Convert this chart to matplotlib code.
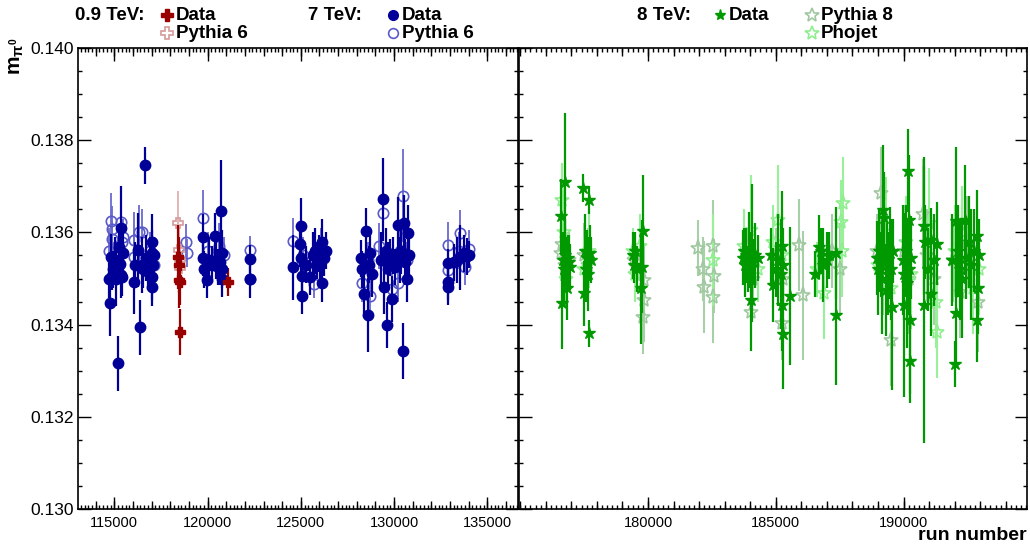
import numpy as np
import matplotlib.pyplot as plt
from matplotlib.lines import Line2D
from matplotlib.ticker import MultipleLocator, FormatStrFormatter

plt.rcParams['font.family'] = ['Liberation Sans', 'DejaVu Sans']
plt.rcParams['mathtext.fontset'] = 'custom'
plt.rcParams['mathtext.rm'] = 'Liberation Sans'
plt.rcParams['mathtext.bf'] = 'Liberation Sans:bold'
plt.rcParams['mathtext.it'] = 'Liberation Sans:italic'

# ---- 0.9 TeV ----
run_09_data = [118440, 118460, 118480, 118500, 118520, 121090]
m_09_data = [0.13547, 0.13529, 0.13497, 0.13493, 0.13383, 0.13493]
e_09_data = [0.0007, 0.0006, 0.0006, 0.0005, 0.0005, 0.0003]

run_09_py6 = [118440, 118470, 118500, 118520]
m_09_py6 = [0.13620, 0.13562, 0.13522, 0.13540]
e_09_py6 = [0.0007, 0.0005, 0.0004, 0.0004]

# ---- 7 TeV ----
run_7_data = [114690, 114780, 114820, 114870, 114950, 115030, 115100, 115180, 115250, 115300,
              115340, 115380, 115420, 115470, 116040, 116100, 116250, 116370, 116480, 116550,
              116620, 116700, 116800, 116900, 117010, 117040, 117060, 117000, 117020, 117100,
              119750, 119780, 119800, 119970, 120100, 120250, 120380, 120450, 120550, 120650,
              120740, 120760, 120780, 120800, 122260, 122270,
              124590, 124950, 125000, 125020, 125040, 125050, 125300, 125520, 125650, 125750,
              125850, 125950, 126050, 126130, 126150, 126250, 126350,
              128225, 128300, 128403, 128494, 128585, 128650, 128700, 128800, 129300, 129424,
              129478, 129550, 129623, 129700, 129800, 129876, 129950, 130050, 130198, 130300,
              130400, 130500, 130553, 130600, 130698, 130736, 130780,
              132885, 132890, 132900, 133200, 133400, 133565, 133750, 133900, 134000]
m_7_data = [0.13498, 0.13446, 0.13546, 0.13505, 0.13520, 0.13540, 0.13500, 0.13316, 0.13569, 0.13531,
            0.13508, 0.13610, 0.13503, 0.13555, 0.13493, 0.13530, 0.13562, 0.13394, 0.13529, 0.13520,
            0.13746, 0.13545, 0.13515, 0.13540, 0.13579, 0.13555, 0.13530, 0.13504, 0.13481, 0.13550,
            0.13589, 0.13545, 0.13520, 0.13497, 0.13540, 0.13530, 0.13592, 0.13540, 0.13525, 0.13535,
            0.13646, 0.13555, 0.13520, 0.13500, 0.13542, 0.13498,
            0.13524, 0.13575, 0.13614, 0.13545, 0.13505, 0.13463, 0.13530, 0.13504, 0.13550, 0.13560,
            0.13540, 0.13555, 0.13535, 0.13490, 0.13580, 0.13545, 0.13560,
            0.13544, 0.13520, 0.13466, 0.13604, 0.13421, 0.13530, 0.13555, 0.13510, 0.13540, 0.13672,
            0.13482, 0.13560, 0.13399, 0.13530, 0.13545, 0.13456, 0.13550, 0.13525, 0.13616, 0.13540,
            0.13560, 0.13343, 0.13621, 0.13535, 0.13498, 0.13599, 0.13550,
            0.13533, 0.13493, 0.13482, 0.13535, 0.13540, 0.13546, 0.13555, 0.13548, 0.13552]
e_7_data = [0.0004, 0.0007, 0.0005, 0.0003, 0.0004, 0.0005, 0.0006, 0.0006, 0.0005, 0.0004,
            0.0005, 0.0009, 0.0004, 0.0006, 0.0007, 0.0005, 0.0008, 0.0006, 0.0006, 0.0004,
            0.0004, 0.0005, 0.0004, 0.0005, 0.0006, 0.0005, 0.0004, 0.0005, 0.0004, 0.0004,
            0.0005, 0.0004, 0.0004, 0.0004, 0.0005, 0.0004, 0.0005, 0.0004, 0.0004, 0.0005,
            0.0011, 0.0005, 0.0004, 0.0004, 0.0003, 0.0004,
            0.0007, 0.0005, 0.0006, 0.0005, 0.0004, 0.0004, 0.0004, 0.0004, 0.0005, 0.0005,
            0.0004, 0.0004, 0.0005, 0.0004, 0.0005, 0.0004, 0.0004,
            0.0004, 0.0004, 0.0005, 0.0005, 0.0008, 0.0004, 0.0005, 0.0005, 0.0006, 0.0009,
            0.0006, 0.0005, 0.0005, 0.0005, 0.0004, 0.0005, 0.0004, 0.0004, 0.0006, 0.0005,
            0.0005, 0.0006, 0.0006, 0.0005, 0.0005, 0.0006, 0.0005,
            0.0003, 0.0004, 0.0004, 0.0004, 0.0005, 0.0007, 0.0004, 0.0004, 0.0003]

run_7_py6 = [114700, 114820, 114850, 114900, 115000, 115350, 115400, 115450, 116040, 116050,
             116300, 116500, 116900, 117100, 118850, 118870, 119750, 120000, 120600, 120900,
             122260, 122270, 124590, 125100, 125720, 126100, 128300, 128600, 128725, 129200,
             129391, 129700, 129900, 130198, 130300, 130500, 130700, 132885, 132890, 133500,
             133565, 133800, 134000]
m_7_py6 = [0.13560, 0.13625, 0.13608, 0.13585, 0.13540, 0.13623, 0.13580, 0.13590, 0.13584, 0.13547,
           0.13600, 0.13600, 0.13560, 0.13530, 0.13579, 0.13555, 0.13631, 0.13560, 0.13570, 0.13550,
           0.13562, 0.13500, 0.13582, 0.13550, 0.13488, 0.13560, 0.13490, 0.13540, 0.13462, 0.13570,
           0.13641, 0.13520, 0.13478, 0.13490, 0.13560, 0.13680, 0.13540, 0.13573, 0.13518, 0.13560,
           0.13598, 0.13526, 0.13565]
e_7_py6 = [0.0005, 0.0006, 0.0005, 0.0004, 0.0004, 0.0005, 0.0005, 0.0004, 0.0006, 0.0005,
           0.0006, 0.0005, 0.0004, 0.0004, 0.0004, 0.0003, 0.0006, 0.0004, 0.0005, 0.0004,
           0.0003, 0.0003, 0.0005, 0.0004, 0.0003, 0.0005, 0.0004, 0.0004, 0.0005, 0.0005,
           0.0005, 0.0004, 0.0004, 0.0004, 0.0005, 0.0010, 0.0004, 0.0005, 0.0004, 0.0004,
           0.0005, 0.0004, 0.0004]

# ---- 8 TeV ----
run_8_data = [176600, 176640, 176680, 176700, 176735, 176760, 176800, 176836, 176880, 176920, 176960,
              177464, 177480, 177520, 177560, 177600, 177640, 177687, 177690, 177720, 177760,
              179400, 179450, 179500, 179550, 179804, 179780, 179737,
              183700, 183750, 183800, 183850, 183900, 183950, 184000, 184025, 184060, 184100, 184200, 184300,
              184800, 184900, 185000, 185100, 185200, 185240, 185260, 185280, 185300, 185555,
              186546, 186676, 186750, 186850, 187000, 187100, 187350, 187360,
              188950, 189000, 189050, 189100, 189150, 189212, 189250, 189300, 189350, 189400,
              189450, 189500, 189538, 189580,
              189960, 190000, 190030, 190080, 190120, 190190, 190200, 190230, 190255, 190270, 190300,
              190780, 190790, 190850, 190950, 191080, 191090, 191200, 191320,
              191900, 192000, 192060, 192070, 192120, 192200, 192300, 192390, 192450, 192550,
              192650, 192750, 192870, 192880, 192900, 192950]
m_8_data = [0.13636, 0.13446, 0.13540, 0.13520, 0.13709, 0.13550, 0.13530, 0.13479, 0.13545, 0.13535, 0.13525,
            0.13696, 0.13468, 0.13560, 0.13520, 0.13545, 0.13510, 0.13670, 0.13381, 0.13555, 0.13540,
            0.13550, 0.13530, 0.13560, 0.13520, 0.13604, 0.13526, 0.13479,
            0.13545, 0.13560, 0.13530, 0.13550, 0.13520, 0.13565, 0.13540, 0.13453, 0.13555, 0.13535, 0.13550, 0.13545,
            0.13550, 0.13486, 0.13520, 0.13540, 0.13510, 0.13570, 0.13443, 0.13380, 0.13530, 0.13462,
            0.13510, 0.13568, 0.13560, 0.13530, 0.13540, 0.13550, 0.13555, 0.13420,
            0.13545, 0.13520, 0.13560, 0.13530, 0.13500, 0.13649, 0.13631, 0.13475, 0.13540, 0.13510,
            0.13555, 0.13520, 0.13439, 0.13560,
            0.13540, 0.13510, 0.13443, 0.13560, 0.13490, 0.13734, 0.13627, 0.13520, 0.13410, 0.13320, 0.13545,
            0.13614, 0.13443, 0.13580, 0.13520, 0.13584, 0.13466, 0.13540, 0.13575,
            0.13540, 0.13314, 0.13425, 0.13625, 0.13560, 0.13520, 0.13500, 0.13627, 0.13545, 0.13580,
            0.13530, 0.13560, 0.13409, 0.13592, 0.13480, 0.13550]
e_8_data = [0.0008, 0.0010, 0.0006, 0.0007, 0.0015, 0.0008, 0.0006, 0.0007, 0.0005, 0.0006, 0.0005,
            0.0003, 0.0007, 0.0008, 0.0007, 0.0006, 0.0008, 0.0003, 0.0003, 0.0006, 0.0005,
            0.0005, 0.0004, 0.0004, 0.0005, 0.0012, 0.0010, 0.0012,
            0.0006, 0.0005, 0.0007, 0.0006, 0.0005, 0.0008, 0.0006, 0.0011, 0.0015, 0.0005, 0.0007, 0.0005,
            0.0006, 0.0008, 0.0006, 0.0010, 0.0012, 0.0012, 0.0010, 0.0012, 0.0008, 0.0015,
            0.0005, 0.0007, 0.0005, 0.0008, 0.0006, 0.0005, 0.0010, 0.0015,
            0.0008, 0.0010, 0.0009, 0.0007, 0.0012, 0.0014, 0.0010, 0.0010, 0.0008, 0.0009,
            0.0010, 0.0011, 0.0018, 0.0007,
            0.0012, 0.0010, 0.0020, 0.0010, 0.0014, 0.0009, 0.0014, 0.0010, 0.0016, 0.0009, 0.0009,
            0.0015, 0.0030, 0.0008, 0.0009, 0.0007, 0.0009, 0.0010, 0.0009,
            0.0010, 0.0005, 0.0012, 0.0016, 0.0010, 0.0011, 0.0013, 0.0012, 0.0009, 0.0010,
            0.0012, 0.0009, 0.0009, 0.0010, 0.0010, 0.0008]

run_8_py8 = [176600, 176650, 176750, 176900, 177500, 177650, 179450, 179850, 179830, 179800,
             181972, 182156, 182180, 182548, 182560, 182570, 183900, 184025, 184100, 185000,
             185240, 185300, 186050, 185900, 187200, 187500, 188950, 189100, 189200, 189500,
             190000, 190200, 190750, 190900, 191200, 191950, 192200, 192500, 192900]
m_8_py8 = [0.13555, 0.13575, 0.13530, 0.13540, 0.13550, 0.13530, 0.13540, 0.13496, 0.13453, 0.13417,
           0.13566, 0.13521, 0.13482, 0.13570, 0.13460, 0.13505, 0.13540, 0.13428, 0.13500, 0.13550,
           0.13403, 0.13500, 0.13464, 0.13573, 0.13560, 0.13520, 0.13560, 0.13685, 0.13520, 0.13367,
           0.13560, 0.13500, 0.13640, 0.13550, 0.13500, 0.13540, 0.13470, 0.13580, 0.13450]
e_8_py8 = [0.0006, 0.0008, 0.0007, 0.0006, 0.0007, 0.0008, 0.0005, 0.0008, 0.0009, 0.0008,
           0.0006, 0.0007, 0.0010, 0.0010, 0.0010, 0.0008, 0.0007, 0.0006, 0.0006, 0.0006,
           0.0008, 0.0008, 0.0014, 0.0010, 0.0008, 0.0010, 0.0008, 0.0010, 0.0010, 0.0010,
           0.0010, 0.0012, 0.0012, 0.0010, 0.0010, 0.0009, 0.0010, 0.0010, 0.0011]

run_8_phojet = [176620, 176700, 176800, 177500, 177700, 179420, 179500, 179700, 182560, 183750,
                184025, 184300, 184900, 185100, 185250, 186600, 186900, 187550, 187644, 187600,
                189000, 189300, 189500, 190100, 190300, 191000, 191320, 191250, 192000, 192300,
                192700, 192950]
m_8_phojet = [0.13670, 0.13600, 0.13500, 0.13520, 0.13560, 0.13560, 0.13510, 0.13570, 0.13540, 0.13570,
              0.13605, 0.13520, 0.13580, 0.13627, 0.13550, 0.13520, 0.13468, 0.13623, 0.13663, 0.13560,
              0.13530, 0.13600, 0.13480, 0.13580, 0.13510, 0.13620, 0.13385, 0.13450, 0.13560, 0.13600,
              0.13480, 0.13520]
e_8_phojet = [0.0008, 0.0010, 0.0006, 0.0007, 0.0008, 0.0005, 0.0006, 0.0007, 0.0010, 0.0008,
              0.0012, 0.0007, 0.0008, 0.0012, 0.0010, 0.0006, 0.0010, 0.0009, 0.0010, 0.0010,
              0.0010, 0.0012, 0.0010, 0.0010, 0.0012, 0.0012, 0.0010, 0.0010, 0.0010, 0.0010,
              0.0010, 0.0010]

W, H = 1030, 545
fig = plt.figure(figsize=(W / 100, H / 100), dpi=100)
axl = fig.add_axes([78 / W, 1 - 509 / H, (518 - 78) / W, 461 / H])
axr = fig.add_axes([519 / W, 1 - 509 / H, (1027 - 519) / W, 461 / H])


def series(ax, x, y, e, marker, color, ecolor, ms, filled, lw, z):
    ax.errorbar(x, y, yerr=e, fmt='none', ecolor=ecolor, elinewidth=lw, capsize=0, zorder=z)
    ax.plot(x, y, ls='none', marker=marker, ms=ms, mec=color,
            mfc=color if filled else 'none', mew=1.0 if filled else 1.2, zorder=z + 0.5)


# MC first, data on top
series(axl, run_7_py6, m_7_py6, e_7_py6, 'o', '#5a5ac8', '#6a6ad0', 7.5, False, 1.3, 2)
series(axl, run_09_py6, m_09_py6, e_09_py6, 'P', '#d49a9a', '#e0b0b0', 7.5, False, 1.3, 2)
series(axl, run_7_data, m_7_data, e_7_data, 'o', '#000099', '#000099', 7.5, True, 1.6, 4)
series(axl, run_09_data, m_09_data, e_09_data, 'P', '#990000', '#990000', 7.5, True, 1.6, 4)

series(axr, run_8_py8, m_8_py8, e_8_py8, '*', '#a0c8a0', '#a8d0a8', 11, False, 1.5, 2)
series(axr, run_8_phojet, m_8_phojet, e_8_phojet, '*', '#90ee90', '#98f098', 11, False, 1.5, 2)
series(axr, run_8_data, m_8_data, e_8_data, '*', '#009900', '#009900', 9, True, 1.6, 4)

axl.set_xlim(113050, 136650)
axr.set_xlim(174950, 194830)

for ax in (axl, axr):
    ax.set_ylim(0.130, 0.140)
    ax.yaxis.set_major_locator(MultipleLocator(0.002))
    ax.yaxis.set_minor_locator(MultipleLocator(0.0005))
    ax.yaxis.set_major_formatter(FormatStrFormatter('%.3f'))
    ax.xaxis.set_major_locator(MultipleLocator(5000))
    ax.xaxis.set_minor_locator(MultipleLocator(200))
    ax.tick_params(which='both', direction='in', top=True, right=True, width=1)
    ax.tick_params(which='major', length=9)
    ax.tick_params(which='minor', length=3)
    ax.tick_params(axis='x', labelsize=10.5, pad=5)
    ax.tick_params(axis='y', labelsize=12.5, pad=3)
    for s in ax.spines.values():
        s.set_linewidth(1.2)
    for side in ('bottom', 'top'):
        sec = ax.secondary_xaxis(side)
        sec.xaxis.set_major_locator(MultipleLocator(1000))
        sec.tick_params(direction='in', length=5.5, width=1, labelbottom=False, labeltop=False)
        sec.spines[side].set_visible(False)

axr.tick_params(labelleft=False)
axr.set_xticks([180000, 185000, 190000])

fig.text(17 / W, 1 - 38 / H, r'$\mathbf{m}_{\mathbf{\pi^{0}}}$', rotation=90,
         ha='center', va='top', fontsize=15)
fig.text(1027 / W, 1 - 536 / H, 'run number', ha='right', va='center',
         fontsize=14, fontweight='bold')


# legend drawn as text + marker keys
def key(xp, yp, marker, color, filled, ms, label):
    fig.add_artist(Line2D([xp / W], [1 - yp / H], transform=fig.transFigure, ls='none',
                          marker=marker, ms=ms, mec=color, mfc=color if filled else 'none',
                          mew=1.0 if filled else 1.2))
    fig.text((xp + 9) / W, 1 - yp / H, label, ha='left', va='center',
             fontsize=13.5, fontweight='bold')


fig.text(75 / W, 1 - 15 / H, '0.9 TeV:', ha='left', va='center', fontsize=13.5, fontweight='bold')
key(167, 15, 'P', '#990000', True, 8, 'Data')
key(167, 33, 'P', '#d49a9a', False, 8, 'Pythia 6')
fig.text(308 / W, 1 - 15 / H, '7 TeV:', ha='left', va='center', fontsize=13.5, fontweight='bold')
key(393, 15, 'o', '#000099', True, 7, 'Data')
key(393, 33, 'o', '#5a5ac8', False, 7, 'Pythia 6')
fig.text(637 / W, 1 - 15 / H, '8 TeV:', ha='left', va='center', fontsize=13.5, fontweight='bold')
key(720, 15, '*', '#009900', True, 8, 'Data')
key(812, 15, '*', '#a0c8a0', False, 10, 'Pythia 8')
key(812, 33, '*', '#90ee90', False, 10, 'Phojet')

fig.savefig('out.png', dpi=100)
